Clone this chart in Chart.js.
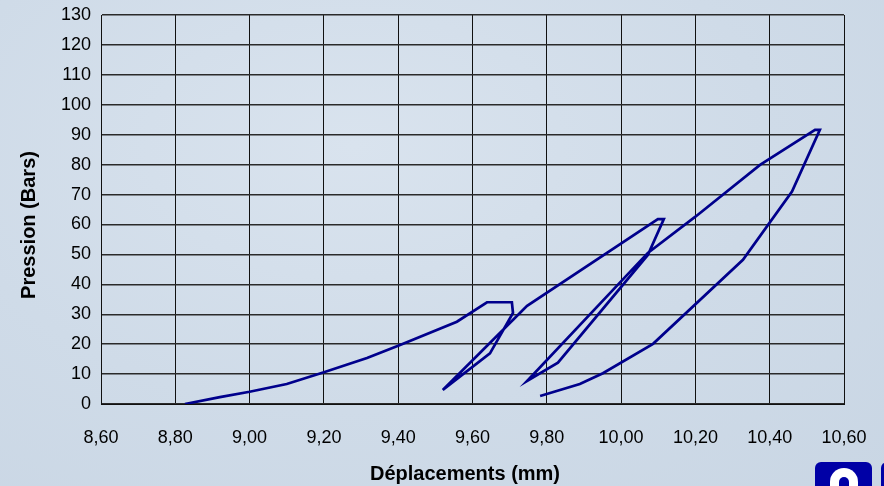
<!DOCTYPE html>
<html>
<head>
<meta charset="utf-8">
<script src="https://cdn.jsdelivr.net/npm/chart.js@4.4.0/dist/chart.umd.min.js"></script>
<style>
    body { margin: 0; background: #cfdbe8; }
    #cadre { position: relative; width: 884px; height: 486px; overflow: hidden;
             background: radial-gradient(ellipse at 40% 30%, #d9e3ee 0%, #cfdbe8 55%, #c9d6e4 100%); }
    #logo1 { position: absolute; left: 815px; top: 462px; width: 57px; height: 34px; border-radius: 6px; background: #0000a6; }
    #logo1 .arche { position: absolute; left: 15px; top: 6px; width: 28px; height: 30px; border-radius: 14px 14px 0 0; background: #fff; }
    #logo1 .trou { position: absolute; left: 24px; top: 15px; width: 10px; height: 20px; border-radius: 5px 5px 0 0; background: #0000a6; }
    #logo2 { position: absolute; left: 881px; top: 462px; width: 20px; height: 34px; border-radius: 6px; background: #0000a6; }
</style>
</head>
<body>
<div id="cadre">
    <canvas id="pressionChart" width="884" height="486"></canvas>
    <div id="logo1"><div class="arche"></div><div class="trou"></div></div>
    <div id="logo2"></div>
</div>
<script>
// Déplacements (mm) / Pression (Bars)
let deplacements = [8.826, 8.92, 9.00, 9.10, 9.198, 9.316, 9.405, 9.558, 9.639, 9.706,
                    9.709, 9.647, 9.52, 9.747, 10.099, 10.115, 10.072, 9.83, 9.747, 10.072,
                    10.20, 10.374, 10.522, 10.535, 10.46, 10.328, 10.086, 9.951, 9.889, 9.782];
let pressions = [0, 2.3, 4.1, 6.7, 10.5, 15.4, 19.7, 27.5, 34.0, 34.0,
                 30.4, 16.9, 4.7, 32.8, 61.8, 61.8, 49.8, 13.8, 7.7, 50.5,
                 62.6, 79.9, 91.6, 91.6, 71, 48.2, 20.1, 10.3, 6.7, 2.7];

let ticksX = [8.6, 8.8, 9.0, 9.2, 9.4, 9.6, 9.8, 10.0, 10.2, 10.4, 10.6];
let ticksY = [0, 10, 20, 30, 40, 50, 60, 70, 80, 90, 100, 110, 120, 130];

let titreX = "Déplacements (mm)";
let titreY = "Pression (Bars)";

let points = [];
for (let i = 0; i < deplacements.length; i++) {
    points.push({ x: deplacements[i], y: pressions[i] });
}

// titres des axes dessinés à la main (position décalée comme dans l'original)
const titresAxes = {
    id: "titresAxes",
    afterDraw: function (chart) {
        let ctx = chart.ctx;
        ctx.save();
        ctx.fillStyle = "#000";
        ctx.font = "bold 20px 'Liberation Sans', Arial, sans-serif";
        ctx.textAlign = "center";
        ctx.textBaseline = "middle";
        ctx.fillText(titreX, 465, 474);
        ctx.translate(29, 225);
        ctx.rotate(-Math.PI / 2);
        ctx.fillText(titreY, 0, 0);
        ctx.restore();
    }
};

let ctx = document.getElementById("pressionChart").getContext("2d");
let chart = new Chart(ctx, {
    type: "scatter",
    data: {
        datasets: [{
            label: "Pression",
            data: points,
            showLine: true,
            borderColor: "#00008c",
            borderWidth: 2.7,
            pointRadius: 0,
            tension: 0
        }]
    },
    options: {
        responsive: false,
        animation: false,
        layout: { padding: { left: 0, right: 40, top: 15, bottom: 0 } },
        plugins: {
            legend: { display: false },
            tooltip: { enabled: false }
        },
        scales: {
            x: {
                type: "linear",
                min: 8.6,
                max: 10.6,
                afterBuildTicks: function (scale) {
                    scale.ticks = ticksX.map(v => ({ value: v }));
                },
                afterFit: function (scale) {
                    scale.height = 82;
                    scale.paddingLeft = 0;
                    scale.paddingRight = 0;
                },
                grid: { color: "#111", lineWidth: 1, drawTicks: false },
                border: { color: "#111", width: 1 },
                ticks: {
                    padding: 23,
                    color: "#000",
                    font: { family: "'Liberation Sans', Arial, sans-serif", size: 18 },
                    callback: v => v.toFixed(2).replace(".", ",")
                }
            },
            y: {
                min: 0,
                max: 130,
                afterBuildTicks: function (scale) {
                    scale.ticks = ticksY.map(v => ({ value: v }));
                },
                afterFit: function (scale) {
                    scale.width = 101;
                    scale.paddingTop = 0;
                    scale.paddingBottom = 0;
                },
                grid: { color: "#2a2a2a", lineWidth: 1.4, drawTicks: false },
                border: { color: "#111", width: 1 },
                ticks: {
                    padding: 10,
                    color: "#000",
                    font: { family: "'Liberation Sans', Arial, sans-serif", size: 18 },
                    callback: v => v
                }
            }
        }
    },
    plugins: [titresAxes]
});
</script>
</body>
</html>
